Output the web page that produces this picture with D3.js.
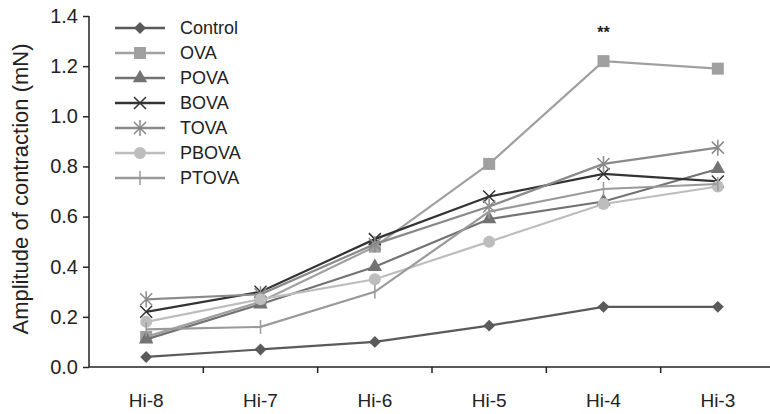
<!DOCTYPE html>
<html>
<head>
<meta charset="utf-8">
<script src="https://cdn.jsdelivr.net/npm/d3@7"></script>
<style>
  body { margin: 0; background: #fff; }
  svg { font-family: Arial, "Liberation Sans", sans-serif; }
  .axis path, .axis line { stroke: #222; stroke-width: 1.5; }
  .axis text { fill: #222; }
</style>
</head>
<body>
<svg width="770" height="414"></svg>
<script>
const categories = ["Hi-8", "Hi-7", "Hi-6", "Hi-5", "Hi-4", "Hi-3"];
const yTicks = [0, 0.2, 0.4, 0.6, 0.8, 1.0, 1.2, 1.4];

const control = [0.04, 0.07, 0.10, 0.165, 0.24, 0.24];
const ova     = [0.12, 0.26, 0.48, 0.81, 1.22, 1.19];
const pova    = [0.11, 0.25, 0.40, 0.59, 0.66, 0.79];
const bova    = [0.22, 0.30, 0.51, 0.68, 0.77, 0.74];
const tova    = [0.27, 0.29, 0.49, 0.64, 0.81, 0.875];
const pbova   = [0.18, 0.27, 0.35, 0.50, 0.65, 0.72];
const ptova   = [0.15, 0.16, 0.30, 0.62, 0.71, 0.73];

const series = [
    {name: "Control", values: control, color: "#5a5a5a", marker: "diamond"},
    {name: "OVA", values: ova, color: "#a0a0a0", marker: "square"},
    {name: "POVA", values: pova, color: "#737373", marker: "triangle"},
    {name: "BOVA", values: bova, color: "#333333", marker: "cross"},
    {name: "TOVA", values: tova, color: "#8a8a8a", marker: "star"},
    {name: "PBOVA", values: pbova, color: "#bdbdbd", marker: "circle"},
    {name: "PTOVA", values: ptova, color: "#9a9a9a", marker: "plus"}
];

const svg = d3.select("svg");

const x = d3.scaleBand()
    .domain(categories)
    .range([89, 775]);

const y = d3.scaleLinear()
    .domain([0, 1.4])
    .range([367, 16]);

// x axis: ticks sit between the categories
const xAxisG = svg.append("g")
    .attr("class", "axis")
    .attr("transform", "translate(0,367)");
xAxisG.append("line")
    .attr("x1", 89).attr("x2", 775);
xAxisG.selectAll(".xtick")
    .data(categories.slice(1))
    .enter().append("line")
    .attr("x1", (d) => x(d)).attr("x2", (d) => x(d))
    .attr("y1", 0).attr("y2", 6);
xAxisG.selectAll(".xlabel")
    .data(categories)
    .enter().append("text")
    .attr("x", (d) => x(d) + x.bandwidth() / 2)
    .attr("y", 40)
    .attr("text-anchor", "middle")
    .style("font-size", "19px")
    .text((d) => d);

const yAxisG = svg.append("g")
    .attr("class", "axis")
    .attr("transform", "translate(89,0)")
    .call(d3.axisLeft(y).tickValues(yTicks).tickFormat(d3.format(".1f")).tickSize(6).tickPadding(5));
yAxisG.select(".domain").attr("d", `M0,${y(1.4)}V${y(0)}`);
yAxisG.selectAll("text").style("font-size", "20px");

svg.append("text")
    .attr("transform", "translate(28,189) rotate(-90)")
    .attr("text-anchor", "middle")
    .style("font-size", "22px")
    .attr("fill", "#222")
    .text("Amplitude of contraction (mN)");

const line = d3.line()
    .x((d, i) => x(categories[i]) + x.bandwidth() / 2)
    .y((d) => y(d));

function drawMarker(g, type, color) {
    if (type === "diamond") {
        g.append("path").attr("d", d3.symbol(d3.symbolDiamond2, 90)()).attr("fill", color);
    } else if (type === "square") {
        g.append("rect").attr("x", -6).attr("y", -6).attr("width", 12).attr("height", 12).attr("fill", color);
    } else if (type === "triangle") {
        g.append("path").attr("d", d3.symbol(d3.symbolTriangle, 90)()).attr("fill", color);
    } else if (type === "circle") {
        g.append("circle").attr("r", 6).attr("fill", color);
    } else if (type === "cross") {
        g.append("path").attr("d", "M-6,-6L6,6M-6,6L6,-6").attr("stroke", color).attr("stroke-width", 1.5);
    } else if (type === "star") {
        g.append("path").attr("d", "M-6,-6L6,6M-6,6L6,-6M0,-8L0,8").attr("stroke", color).attr("stroke-width", 1.5);
    } else if (type === "plus") {
        g.append("path").attr("d", "M0,-7L0,7").attr("stroke", color).attr("stroke-width", 1.5);
    }
}

series.forEach((s) => {
    svg.append("path")
        .datum(s.values)
        .attr("fill", "none")
        .attr("stroke", s.color)
        .attr("stroke-width", 2.2)
        .attr("d", line);
    s.values.forEach((v, i) => {
        const g = svg.append("g")
            .attr("transform", `translate(${x(categories[i]) + x.bandwidth() / 2},${y(v)})`);
        drawMarker(g, s.marker, s.color);
    });
});

// legend
const legend = svg.append("g");
series.forEach((s, i) => {
    const ly = 28 + i * 25;
    legend.append("line")
        .attr("x1", 115).attr("x2", 165)
        .attr("y1", ly).attr("y2", ly)
        .attr("stroke", s.color).attr("stroke-width", 2.5);
    drawMarker(legend.append("g").attr("transform", `translate(140,${ly})`), s.marker, s.color);
    legend.append("text")
        .attr("x", 180).attr("y", ly + 6)
        .style("font-size", "18px")
        .attr("fill", "#222")
        .text(s.name);
});

svg.append("text")
    .attr("x", x("Hi-4") + x.bandwidth() / 2)
    .attr("y", 38)
    .attr("text-anchor", "middle")
    .style("font-size", "16px")
    .style("font-weight", "bold")
    .attr("fill", "#222")
    .text("**");
</script>
</body>
</html>
